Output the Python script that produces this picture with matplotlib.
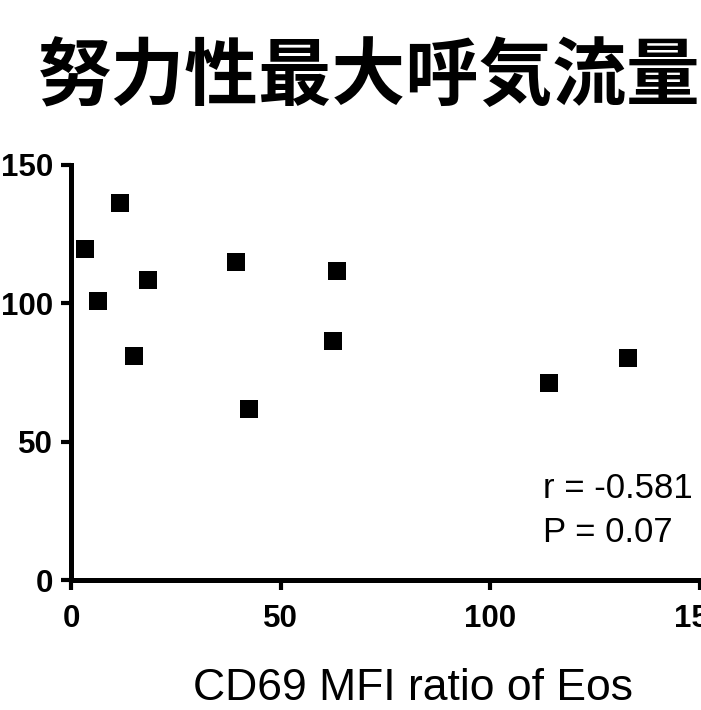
import matplotlib
matplotlib.use('Agg')
import matplotlib.pyplot as plt

# data
cd69_ratio = [3.3, 11.7, 6.5, 18.4, 15.1, 39.4, 42.5, 63.4, 62.5, 114.0, 132.8]
fef_pct = [119.6, 136.4, 100.8, 108.4, 81.1, 114.9, 61.8, 111.7, 86.4, 71.2, 80.2]
x_ticks = [0, 50, 100, 150]
y_ticks = [0, 50, 100, 150]
title_text = '努力性最大呼気流量'
xlabel_text = 'CD69 MFI ratio of Eos'
stats_lines = ['r = -0.581', 'P = 0.07']

W, H = 701, 710
fig = plt.figure(figsize=(W / 100, H / 100), dpi=100)
ax = fig.add_axes([71 / W, 1 - 580 / H, 629 / W, 415 / H])

ax.plot(cd69_ratio, fef_pct, linestyle='none', marker='s', markersize=12.5,
        color='black', markeredgewidth=0, clip_on=False)

ax.set_xlim(0, 150)
ax.set_ylim(0, 150)
ax.set_xticks(x_ticks)
ax.set_yticks(y_ticks)
for s in ['top', 'right']:
    ax.spines[s].set_visible(False)
for s in ['left', 'bottom']:
    ax.spines[s].set_linewidth(3.6)
ax.tick_params(width=3.0, length=7, direction='out', colors='black')
ax.tick_params(axis='x', pad=10)
ax.tick_params(axis='y', pad=6)
for lab in ax.get_xticklabels() + ax.get_yticklabels():
    lab.set_fontfamily('Liberation Sans')
    lab.set_fontweight('bold')
    lab.set_fontsize(22.5)

# correlation stats
ax.text(0.750, 0.1976, stats_lines[0], transform=ax.transAxes, ha='left',
        va='baseline', fontsize=25, family='Liberation Sans')
ax.text(0.750, 0.0916, stats_lines[1], transform=ax.transAxes, ha='left',
        va='baseline', fontsize=25, family='Liberation Sans')

fig.text(413 / W, 1 - 700 / H, xlabel_text, ha='center', va='baseline',
         fontsize=32, family='Liberation Sans')
fig.text(369 / W, 1 - 78 / H, title_text, ha='center', va='center',
         fontsize=53, fontweight='bold', family=['Noto Sans CJK JP', 'DejaVu Sans'])

fig.savefig('out.png', dpi=100)
